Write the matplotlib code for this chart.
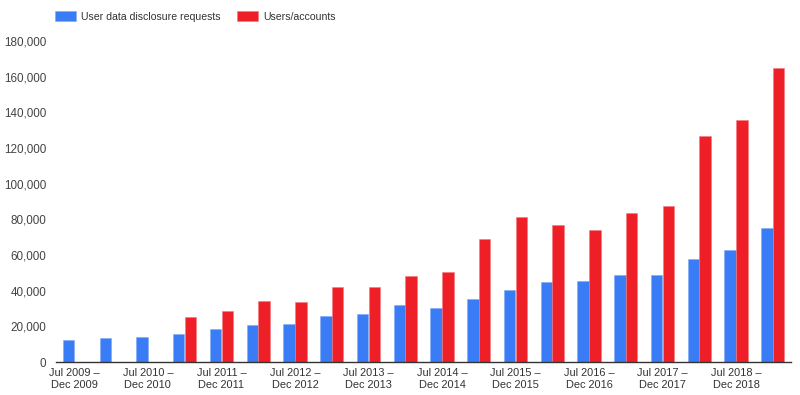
import matplotlib
matplotlib.use("Agg")
import matplotlib.pyplot as plt
import numpy as np

plt.rcParams['font.family'] = ['Liberation Sans', 'DejaVu Sans']

periods = [
    "Jul 2009 –\nDec 2009", "Jan 2010 –\nJun 2010",
    "Jul 2010 –\nDec 2010", "Jan 2011 –\nJun 2011",
    "Jul 2011 –\nDec 2011", "Jan 2012 –\nJun 2012",
    "Jul 2012 –\nDec 2012", "Jan 2013 –\nJun 2013",
    "Jul 2013 –\nDec 2013", "Jan 2014 –\nJun 2014",
    "Jul 2014 –\nDec 2014", "Jan 2015 –\nJun 2015",
    "Jul 2015 –\nDec 2015", "Jan 2016 –\nJun 2016",
    "Jul 2016 –\nDec 2016", "Jan 2017 –\nJun 2017",
    "Jul 2017 –\nDec 2017", "Jan 2018 –\nJun 2018",
    "Jul 2018 –\nDec 2018", "Jan 2019 –\nJun 2019",
]
requests = [12500, 13500, 14200, 15700, 18300, 20900, 21400, 25600, 27200, 31700,
            30100, 35400, 40400, 45000, 45600, 48900, 48900, 57800, 62800, 75200]
accounts = [0, 0, 0, 25400, 28500, 34300, 33600, 42300, 42300, 48500,
            50600, 68800, 81500, 76700, 74000, 83600, 87500, 126800, 135600, 164900]
series_names = ["User data disclosure requests", "Users/accounts"]
yticks = [0, 20000, 40000, 60000, 80000, 100000, 120000, 140000, 160000, 180000]

blue = '#3A7CF6'
red = '#EE1F26'

fig = plt.figure(figsize=(8, 3.95), dpi=100)
ax = fig.add_axes([0.07, 0.0835, 0.919, 0.8125])

x = np.arange(len(periods))
w = 0.31
b1 = ax.bar(x - w / 2 - 0.005, requests, width=w, color=blue, edgecolor='#7FA9F8', linewidth=0.4, label=series_names[0])
b2 = ax.bar(x + w / 2 + 0.005, accounts, width=w, color=red, edgecolor='#F47A7E', linewidth=0.4, label=series_names[1])

ax.set_xlim(-0.5, len(periods) - 0.5)
ax.set_ylim(0, 180000)
ax.set_yticks(yticks)
ax.set_yticklabels([f"{v:,}" for v in yticks])
ax.set_xticks(x[::2])
ax.set_xticklabels(periods[::2])

for s in ['top', 'right', 'left']:
    ax.spines[s].set_visible(False)
ax.spines['bottom'].set_color('#333333')
ax.spines['bottom'].set_linewidth(1.0)
ax.tick_params(axis='y', length=0, labelsize=8.4, colors='#444444', pad=7)
ax.tick_params(axis='x', length=0, labelsize=7.9, colors='#333333', pad=4)
for lbl in ax.get_xticklabels():
    lbl.set_linespacing(1.3)

fig.legend(handles=[b1, b2], labels=series_names, loc='upper left',
           bbox_to_anchor=(0.057, 0.995), ncol=2, frameon=False, fontsize=7.6,
           handlelength=2.0, handleheight=0.95, columnspacing=1.6, handletextpad=0.45,
           labelcolor='#333333')

fig.savefig("out.png", dpi=100)
